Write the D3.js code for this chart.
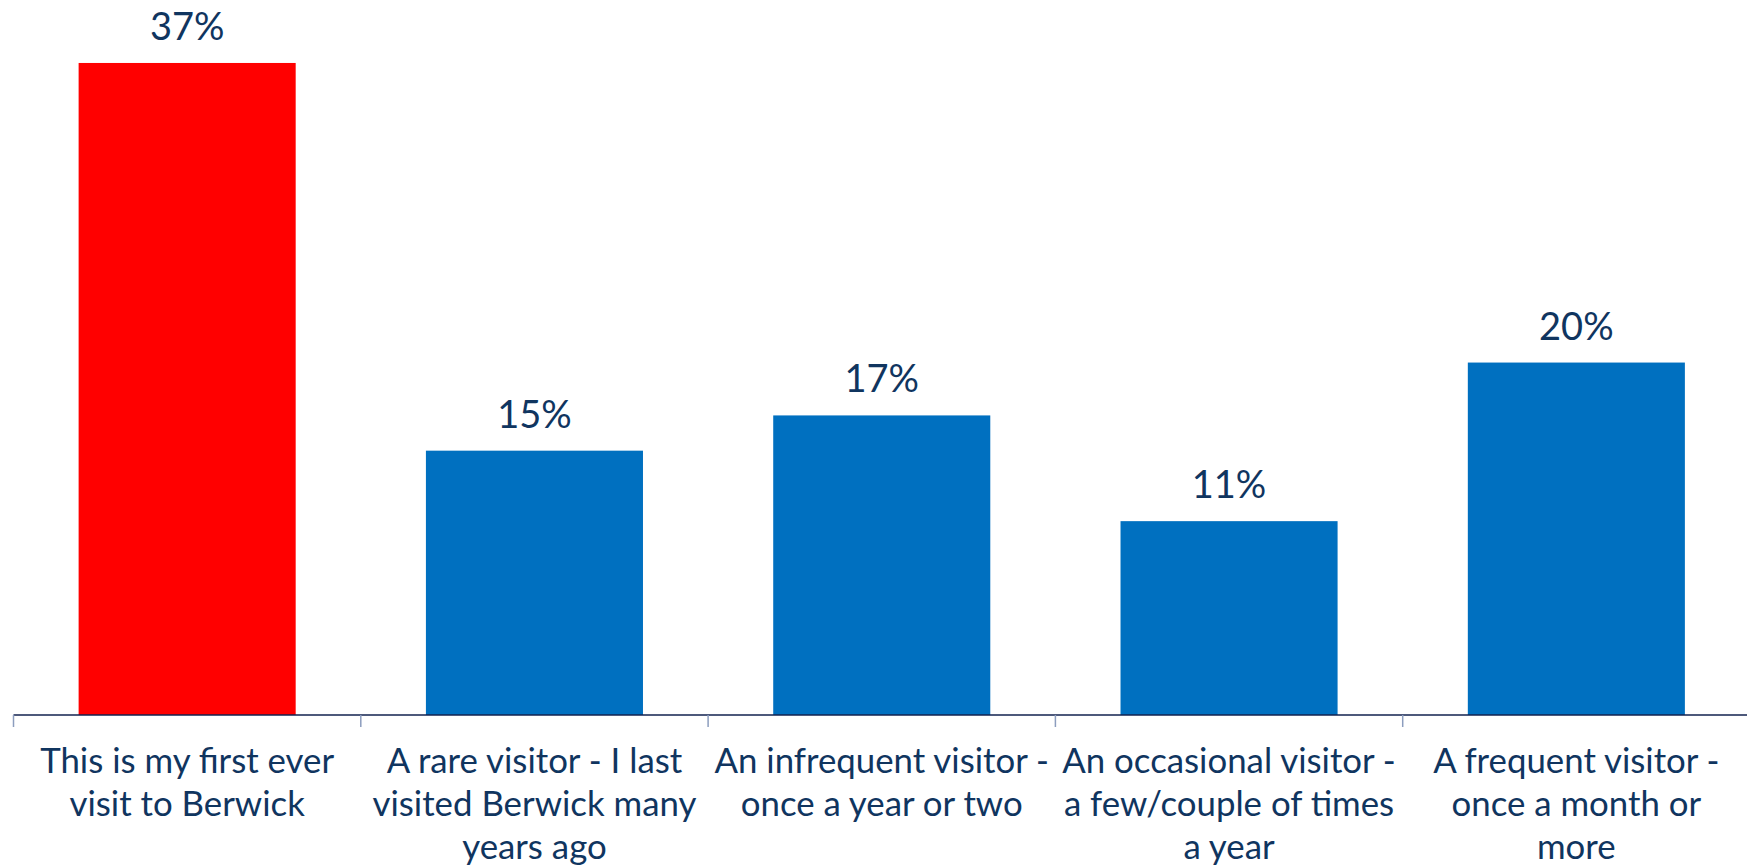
<!DOCTYPE html>
<html><head><meta charset="utf-8">
<script src="https://cdn.jsdelivr.net/npm/d3@7"></script>
<style>html,body{margin:0;padding:0;background:#fff;}svg{display:block;}</style>
</head><body>
<svg id="chart" width="1747" height="867"></svg>
<script>
const categories = [
  "This is my first ever\nvisit to Berwick",
  "A rare visitor - I last\nvisited Berwick many\nyears ago",
  "An infrequent visitor -\nonce a year or two",
  "An occasional visitor -\na few/couple of times\na year",
  "A frequent visitor -\nonce a month or\nmore"
];
const values = [37, 15, 17, 11, 20];
const barColors = ["#FF0000", "#0070C0", "#0070C0", "#0070C0", "#0070C0"];
const yDomain = [0, 40];

const W = 1747, H = 867;
const m = {left: 13.5, right: -3, top: 10.1, bottom: 152};
const svg = d3.select("#chart");
const font = "Lato, 'Open Sans', sans-serif";
const textColor = "#10355F";

const x = d3.scaleBand().domain(categories).range([m.left, W - m.right]).paddingInner(0.375).paddingOuter(0.1875);
const y = d3.scaleLinear().domain(yDomain).range([H - m.bottom, m.top]);

svg.selectAll("rect.bar").data(values).join("rect")
  .attr("class", "bar")
  .attr("x", (d, i) => x(categories[i]))
  .attr("width", x.bandwidth())
  .attr("y", d => y(d))
  .attr("height", d => y(0) - y(d))
  .attr("fill", (d, i) => barColors[i]);

svg.selectAll("text.val").data(values).join("text")
  .attr("class", "val")
  .attr("x", (d, i) => x(categories[i]) + x.bandwidth() / 2)
  .attr("y", d => y(d) - 23)
  .attr("text-anchor", "middle")
  .attr("font-family", font)
  .attr("font-size", 38)
  .attr("fill", textColor)
  .text(d => d + "%");

// axis
const xAxis = d3.axisBottom(x).tickSize(0).tickFormat("");
const gx = svg.append("g").attr("transform", `translate(0,${y(0)})`).call(xAxis);
gx.select(".domain").remove();
svg.append("line").attr("x1", m.left).attr("x2", W).attr("y1", y(0)).attr("y2", y(0))
  .attr("stroke", "#12224F").attr("stroke-width", 1.5);
// tick marks at band boundaries
const step = x.step();
const boundaries = categories.map((c, i) => x(c) - x.paddingOuter() * step).concat([x(categories[categories.length - 1]) + x.bandwidth() + x.paddingOuter() * step]);
svg.selectAll("line.tk").data(boundaries).join("line")
  .attr("class", "tk")
  .attr("x1", d => d).attr("x2", d => d)
  .attr("y1", y(0)).attr("y2", y(0) + 12)
  .attr("stroke", "#8C9DBE").attr("stroke-width", 1.5);

// category labels
categories.forEach((c, i) => {
  const t = svg.append("text")
    .attr("x", x(c) + x.bandwidth() / 2)
    .attr("y", 773)
    .attr("text-anchor", "middle")
    .attr("font-family", font)
    .attr("font-size", 34.8)
    .attr("fill", textColor);
  c.split("\n").forEach((line, j) => {
    t.append("tspan").attr("x", x(c) + x.bandwidth() / 2).attr("y", 773 + j * 43).text(line);
  });
});
</script>
</body></html>
